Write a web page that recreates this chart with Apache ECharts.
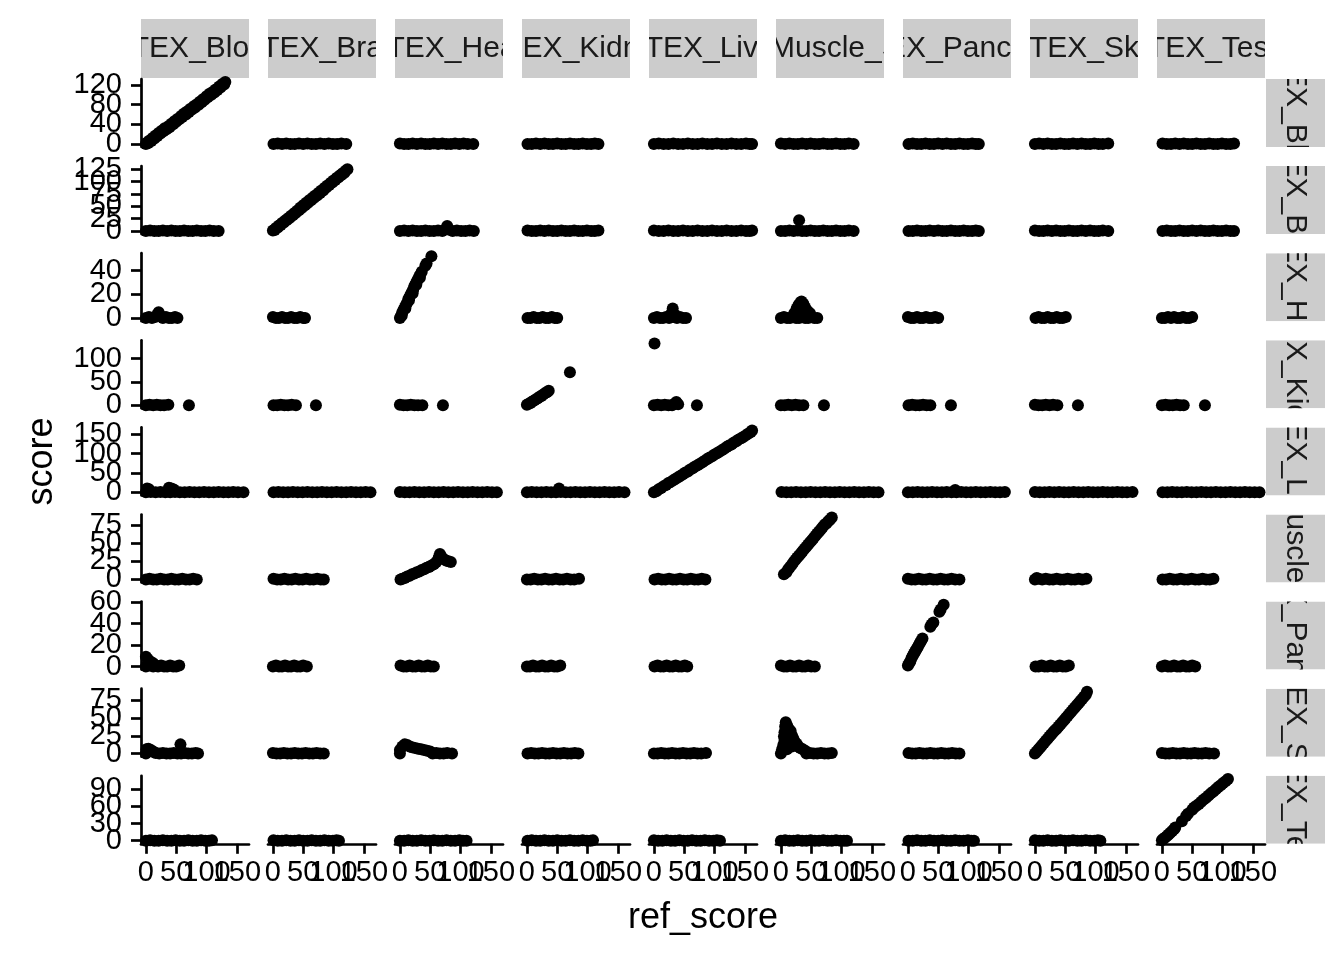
<!DOCTYPE html>
<html><head><meta charset="utf-8">
<script src="https://cdn.jsdelivr.net/npm/echarts@6/dist/echarts.min.js"></script>
<style>html,body{margin:0;padding:0;background:#fff}#c{width:1344px;height:960px}</style>
</head><body><div id="c"></div>
<script>
// facet labels (rows = score tissue, columns = ref tissue)
const tissues = ["GTEX_Blood","GTEX_Brain","GTEX_Heart","GTEX_Kidney","GTEX_Liver","GTEX_Muscle_Skeletal","GTEX_Pancreas","GTEX_Skin","GTEX_Testis"];
const xTicks = [0,50,100,150];
const yTicks = [[0,40,80,120],[0,25,50,75,100,125],[0,20,40],[0,50,100],[0,50,100,150],[0,25,50,75],[0,20,40,60],[0,25,50,75],[0,30,60,90]];

// each row: 9 panels (ref tissue columns), points [ref_score, score]
const scoreBlood = [
 [[0,0],[2,3],[4,2],[6,7],[9,6],[11,12],[14,11],[16,17],[19,16],[21,22],[24,21],[26,27],[29,26],[31,32],[34,30],[37,36],[39,34],[42,41],[45,40],[47,46],[50,45],[52,51],[55,50],[58,57],[60,55],[63,62],[66,60],[68,66],[71,65],[73,71],[76,70],[79,77],[81,74],[84,81],[87,80],[89,86],[92,85],[94,91],[97,90],[100,97],[102,95],[105,102],[108,100],[110,106],[113,105],[115,111],[118,110],[121,117],[123,115],[126,122],[129,121],[131,126]],
 [[1,0],[8,1],[15,0],[22,1],[29,0],[36,0],[43,1],[50,0],[57,1],[64,0],[71,0],[78,1],[85,0],[92,1],[99,0],[106,0],[113,1],[121,0]],
 [[0,1],[7,0],[14,0],[21,1],[28,0],[35,1],[42,0],[49,0],[56,1],[63,0],[70,1],[77,0],[84,0],[91,1],[98,0],[105,1],[112,0],[121,0]],
 [[1,0],[8,0],[15,1],[22,0],[29,1],[36,0],[43,0],[50,1],[57,0],[64,0],[71,1],[78,0],[85,0],[92,1],[99,0],[106,0],[112,1],[118,0]],
 [[0,0],[8,1],[16,0],[24,0],[32,1],[40,0],[48,0],[56,1],[64,0],[72,0],[80,1],[88,0],[96,0],[104,1],[112,0],[120,0],[128,1],[136,0],[144,0],[152,1],[158,0],[162,0]],
 [[0,1],[7,0],[14,1],[21,0],[28,0],[35,1],[42,0],[49,1],[56,0],[63,0],[70,1],[77,0],[84,0],[91,1],[98,0],[105,0],[112,1],[120,0]],
 [[1,0],[8,1],[15,0],[22,0],[29,1],[36,0],[43,0],[50,1],[57,0],[64,1],[71,0],[78,0],[85,1],[92,0],[99,0],[106,1],[112,0],[117,0]],
 [[0,0],[7,1],[14,0],[21,1],[28,0],[35,0],[42,1],[49,0],[56,0],[63,1],[70,0],[77,1],[84,0],[91,0],[98,1],[105,0],[112,0],[121,1]],
 [[1,1],[8,0],[15,0],[22,1],[29,0],[36,1],[43,0],[50,0],[57,1],[64,0],[71,0],[78,1],[85,0],[92,0],[99,1],[106,0],[113,0],[119,1]]
];
const scoreBrain = [
 [[0,0],[7,1],[14,0],[21,0],[28,1],[35,0],[42,1],[49,0],[56,0],[63,1],[70,0],[77,0],[84,1],[91,0],[98,0],[105,1],[112,0],[120,0]],
 [[0,1],[3,2],[5,6],[8,7],[10,11],[13,12],[15,16],[18,17],[20,21],[23,22],[25,26],[28,27],[30,31],[33,32],[35,36],[38,37],[40,41],[43,42],[45,47],[48,47],[50,52],[53,52],[55,57],[58,57],[60,62],[63,62],[65,67],[68,67],[70,72],[73,72],[75,77],[78,77],[80,82],[83,82],[85,87],[88,88],[90,92],[93,93],[95,97],[98,98],[100,102],[103,103],[105,107],[108,108],[110,112],[113,113],[115,117],[118,118],[120,122],[123,125]],
 [[0,0],[7,1],[14,0],[21,1],[28,0],[35,0],[42,1],[49,0],[56,0],[63,1],[70,0],[76,4],[78,10],[80,3],[87,0],[94,1],[101,0],[108,0],[115,1],[122,0]],
 [[1,1],[8,0],[15,0],[22,1],[29,0],[36,1],[43,0],[50,0],[57,1],[64,0],[71,0],[78,1],[85,0],[92,0],[99,1],[106,0],[112,0],[118,1]],
 [[0,1],[8,0],[16,0],[24,1],[32,0],[40,0],[48,1],[56,0],[64,0],[72,1],[80,0],[88,0],[96,1],[104,0],[112,0],[120,1],[128,0],[136,0],[144,1],[152,0],[158,0],[162,1]],
 [[0,0],[7,0],[14,1],[21,0],[28,1],[30,22],[35,0],[42,0],[49,1],[56,0],[63,0],[70,1],[77,0],[84,0],[91,1],[98,0],[105,0],[112,1],[120,0]],
 [[1,0],[8,0],[15,1],[22,0],[29,0],[36,1],[43,0],[50,1],[57,0],[64,0],[71,1],[78,0],[85,0],[92,1],[99,0],[106,0],[112,1],[117,0]],
 [[0,1],[7,0],[14,0],[21,1],[28,0],[35,1],[42,0],[49,0],[56,1],[63,0],[70,0],[77,1],[84,0],[91,1],[98,0],[105,0],[112,1],[121,0]],
 [[1,0],[8,1],[15,0],[22,0],[29,1],[36,0],[43,0],[50,1],[57,0],[64,1],[71,0],[78,0],[85,1],[92,0],[99,0],[106,1],[113,0],[119,0]]
];
const scoreHeart = [
 [[0,0],[5,1],[10,0],[15,1],[19,3],[21,5],[24,2],[28,0],[33,1],[38,0],[43,0],[48,1],[52,0]],
 [[0,1],[5,0],[10,0],[15,1],[20,0],[25,0],[30,1],[35,0],[40,0],[45,1],[50,0],[53,0]],
 [[0,0],[2,2],[3,2],[4,5],[6,7],[8,9],[9,8],[10,11],[12,13],[14,16],[15,15],[16,18],[18,20],[20,22],[21,21],[22,24],[24,27],[26,29],[27,28],[28,31],[30,33],[32,35],[33,34],[34,37],[36,39],[42,44],[44,46],[52,52]],
 [[1,0],[6,0],[11,1],[16,0],[21,0],[26,1],[31,0],[36,0],[41,1],[46,0],[50,0]],
 [[0,0],[5,1],[10,0],[15,0],[20,1],[25,0],[29,4],[31,8],[34,3],[38,0],[43,1],[48,0],[53,0]],
 [[0,0],[5,1],[10,0],[15,0],[20,1],[22,4],[25,0],[26,8],[29,11],[30,0],[32,13],[34,14],[35,1],[37,12],[40,9],[40,0],[44,6],[45,0],[48,4],[50,1],[55,0],[60,0]],
 [[0,1],[5,0],[10,0],[15,1],[20,0],[25,0],[30,1],[35,0],[40,0],[45,1],[50,0]],
 [[1,0],[6,1],[11,0],[16,0],[21,1],[26,0],[31,0],[36,1],[41,0],[46,0],[51,1]],
 [[0,0],[5,0],[10,1],[15,0],[20,1],[25,0],[30,0],[35,1],[40,0],[45,0],[50,1]]
];
const scoreKidney = [
 [[0,0],[6,1],[12,0],[18,1],[24,0],[30,0],[37,1],[71,0]],
 [[1,0],[7,0],[13,1],[19,0],[25,0],[31,1],[38,0],[71,0]],
 [[0,1],[6,0],[12,0],[18,1],[24,0],[30,0],[37,0],[71,0]],
 [[0,1],[3,3],[6,5],[9,8],[12,10],[15,13],[18,15],[21,18],[24,20],[27,23],[30,26],[33,28],[36,31],[71,71]],
 [[1,133],[0,0],[6,1],[12,0],[18,1],[24,0],[30,0],[34,3],[37,7],[40,2],[71,0]],
 [[0,0],[6,0],[12,1],[18,0],[24,1],[30,0],[37,0],[71,0]],
 [[1,0],[7,1],[13,0],[19,0],[25,1],[31,0],[37,0],[71,0]],
 [[0,1],[6,0],[12,0],[18,1],[24,0],[30,1],[37,0],[71,0]],
 [[0,0],[6,1],[12,0],[18,0],[24,1],[30,0],[36,0],[71,0]]
];
const scoreLiver = [
 [[0,0],[2,10],[5,8],[8,1],[16,0],[24,1],[32,0],[38,12],[40,0],[42,10],[46,7],[48,1],[56,0],[64,0],[72,1],[80,0],[88,0],[96,1],[104,0],[112,0],[120,1],[128,0],[136,0],[144,1],[152,0],[161,0]],
 [[1,0],[9,1],[17,0],[25,0],[33,1],[41,0],[49,0],[57,1],[65,0],[73,0],[81,1],[89,0],[97,0],[105,1],[113,0],[121,0],[129,1],[137,0],[145,0],[153,1],[161,0]],
 [[0,1],[8,0],[16,0],[24,1],[32,0],[40,0],[48,1],[56,0],[64,0],[72,1],[80,0],[88,0],[96,1],[104,0],[112,0],[120,1],[128,0],[136,0],[144,1],[152,0],[160,0]],
 [[0,0],[8,1],[16,0],[24,0],[32,1],[40,0],[48,0],[53,10],[56,1],[64,0],[72,0],[80,1],[88,0],[96,0],[104,1],[112,0],[120,0],[128,1],[136,0],[144,0],[152,1],[161,0]],
 [[0,0],[4,3],[8,8],[12,11],[16,16],[20,19],[24,24],[28,27],[32,31],[36,35],[40,39],[44,43],[48,47],[52,51],[56,54],[60,59],[64,62],[68,67],[72,70],[76,74],[80,78],[84,82],[88,86],[92,90],[96,93],[100,98],[104,101],[108,105],[112,109],[116,113],[120,117],[124,121],[128,124],[132,129],[136,132],[140,137],[144,140],[148,144],[152,148],[156,152],[160,156],[162,160]],
 [[1,1],[9,0],[17,0],[25,1],[33,0],[41,0],[49,1],[57,0],[65,0],[73,1],[81,0],[89,0],[97,1],[105,0],[113,0],[121,1],[129,0],[137,0],[145,1],[153,0],[161,0]],
 [[0,0],[8,0],[16,1],[24,0],[32,0],[40,1],[48,0],[56,0],[64,1],[72,0],[78,6],[80,0],[88,1],[96,0],[104,0],[112,1],[120,0],[128,0],[136,1],[144,0],[152,0],[160,1]],
 [[0,1],[8,0],[16,0],[24,1],[32,0],[40,1],[48,0],[56,0],[64,1],[72,0],[80,0],[88,1],[96,0],[104,0],[112,1],[120,0],[128,0],[136,1],[144,0],[152,0],[161,1]],
 [[1,0],[9,0],[17,1],[25,0],[33,0],[41,1],[49,0],[57,0],[65,1],[73,0],[81,0],[89,1],[97,0],[105,0],[113,1],[121,0],[129,0],[137,1],[145,0],[153,0],[161,0]]
];
const scoreMuscle = [
 [[0,0],[6,1],[12,0],[18,0],[24,1],[30,0],[36,0],[42,1],[48,0],[54,0],[60,1],[66,0],[72,0],[78,1],[84,0]],
 [[1,1],[7,0],[13,0],[19,1],[25,0],[31,0],[37,1],[43,0],[49,0],[55,1],[61,0],[67,0],[73,1],[79,0],[84,0]],
 [[1,0],[4,1],[8,2],[12,4],[16,5],[20,7],[24,8],[28,10],[32,11],[36,13],[40,14],[44,16],[48,17],[52,19],[56,21],[60,24],[64,30],[66,35],[68,32],[72,28],[76,26],[80,25],[84,24]],
 [[0,0],[6,0],[12,1],[18,0],[24,0],[30,1],[36,0],[42,0],[48,1],[54,0],[60,0],[66,1],[72,0],[78,0],[86,1]],
 [[1,0],[7,1],[13,0],[19,0],[25,1],[31,0],[37,0],[43,1],[49,0],[55,0],[61,1],[67,0],[73,0],[79,1],[85,0]],
 [[5,7],[9,10],[12,14],[15,17],[18,20],[21,24],[24,27],[27,30],[30,33],[33,36],[36,39],[39,42],[42,45],[45,48],[48,51],[51,54],[54,57],[57,60],[60,63],[63,66],[66,69],[69,72],[72,75],[75,77],[78,80],[81,82],[84,85]],
 [[0,1],[6,0],[12,0],[18,1],[24,0],[30,0],[36,1],[42,0],[48,0],[54,1],[60,0],[66,0],[72,1],[78,0],[85,0]],
 [[0,0],[3,2],[6,1],[12,0],[18,1],[24,0],[30,0],[36,1],[42,0],[48,0],[54,1],[60,0],[66,0],[72,1],[78,0],[85,1]],
 [[1,0],[7,0],[13,1],[19,0],[25,0],[31,1],[37,0],[43,0],[49,1],[55,0],[61,0],[67,1],[73,0],[79,0],[85,1]]
];
const scorePancreas = [
 [[0,9],[0,0],[3,7],[6,5],[6,1],[9,4],[12,3],[12,0],[16,1],[20,0],[25,1],[30,0],[35,0],[40,1],[45,0],[50,0],[55,1]],
 [[0,0],[5,1],[10,0],[15,0],[20,1],[25,0],[30,0],[35,1],[40,0],[45,0],[50,1],[56,0]],
 [[1,1],[6,0],[11,0],[16,1],[21,0],[26,0],[31,1],[36,0],[41,0],[46,1],[51,0],[56,0]],
 [[0,0],[5,0],[10,1],[15,0],[20,0],[25,1],[30,0],[35,0],[40,1],[45,0],[50,0],[55,1]],
 [[1,0],[6,1],[11,0],[16,0],[21,1],[26,0],[31,0],[36,1],[41,0],[46,0],[51,1],[55,0]],
 [[0,1],[5,0],[10,0],[15,1],[20,0],[25,0],[30,1],[35,0],[40,0],[45,1],[50,0],[56,0]],
 [[0,1],[2,3],[4,5],[6,8],[8,10],[10,12],[12,14],[14,16],[16,18],[18,20],[20,22],[22,24],[24,26],[37,37],[39,39],[42,41],[52,51],[54,53],[59,57.5]],
 [[1,0],[6,0],[11,1],[16,0],[21,0],[26,1],[31,0],[36,0],[41,1],[46,0],[51,0],[56,1]],
 [[0,0],[5,1],[10,0],[15,0],[20,1],[25,0],[30,0],[35,1],[40,0],[45,0],[50,1],[55,0]]
];
const scoreSkin = [
 [[0,0],[1,6],[4,7],[8,5],[12,3],[16,1],[22,0],[28,1],[34,0],[40,0],[46,1],[52,0],[57,13],[58,0],[64,1],[70,0],[76,0],[82,1],[86,0]],
 [[0,1],[6,0],[12,0],[18,1],[24,0],[30,0],[36,1],[42,0],[48,0],[54,1],[60,0],[66,0],[72,1],[78,0],[84,0]],
 [[0,5],[0,0],[4,10],[8,13],[12,12],[16,10],[20,9],[25,8],[30,7],[35,6],[40,5],[45,4],[50,3],[54,0],[60,1],[66,0],[72,0],[78,1],[86,0]],
 [[1,0],[7,1],[13,0],[19,0],[25,1],[31,0],[37,0],[43,1],[49,0],[55,0],[61,1],[67,0],[73,0],[79,1],[85,0]],
 [[0,0],[6,0],[12,1],[18,0],[24,0],[30,1],[36,0],[42,0],[48,1],[54,0],[60,0],[66,1],[72,0],[78,0],[86,1]],
 [[0,0],[2,6],[4,12],[6,18],[6,30],[7,38],[8,44],[10,40],[5,24],[8,30],[10,34],[12,36],[9,22],[12,28],[14,30],[16,32],[12,18],[16,24],[18,26],[20,22],[8,12],[14,14],[20,16],[22,18],[10,6],[18,10],[24,12],[26,14],[28,10],[32,8],[36,6],[40,4],[42,0],[48,1],[54,0],[60,0],[66,1],[72,0],[78,0],[84,1]],
 [[1,1],[7,0],[13,0],[19,1],[25,0],[31,0],[37,1],[43,0],[49,0],[55,1],[61,0],[67,0],[73,1],[79,0],[85,0]],
 [[0,0],[3,3],[6,6],[9,9],[12,12],[15,15],[18,18],[21,21],[24,24],[27,27],[30,30],[33,33],[36,35],[39,38],[42,41],[45,44],[48,47],[51,50],[54,53],[57,56],[60,59],[63,62],[66,65],[69,68],[72,71],[75,74],[78,77],[81,80],[84,83],[86,87]],
 [[0,1],[6,0],[12,0],[18,1],[24,0],[30,0],[36,1],[42,0],[48,0],[54,1],[60,0],[66,0],[72,1],[78,0],[86,0]]
];
const scoreTestis = [
 [[0,0],[7,1],[14,0],[21,0],[28,1],[35,0],[42,0],[49,1],[56,0],[63,0],[70,1],[77,0],[84,0],[91,1],[98,0],[104,0],[109,1]],
 [[1,1],[8,0],[15,0],[22,1],[29,0],[36,0],[43,1],[50,0],[57,0],[64,1],[71,0],[78,0],[85,1],[92,0],[99,0],[105,1],[109,0]],
 [[0,0],[7,0],[14,1],[21,0],[28,0],[35,1],[42,0],[49,0],[56,1],[63,0],[70,0],[77,1],[84,0],[91,0],[98,1],[104,0],[110,0]],
 [[1,0],[8,1],[15,0],[22,0],[29,1],[36,0],[43,0],[50,1],[57,0],[64,0],[71,1],[78,0],[85,0],[92,1],[99,0],[105,0],[109,1]],
 [[0,1],[7,0],[14,0],[21,1],[28,0],[35,0],[42,1],[49,0],[56,0],[63,1],[70,0],[77,0],[84,1],[91,0],[98,0],[104,1],[109,0]],
 [[0,0],[7,1],[14,0],[21,0],[28,1],[35,0],[42,0],[49,1],[56,0],[63,0],[70,1],[77,0],[84,0],[91,1],[98,0],[104,0],[109,0]],
 [[1,0],[8,0],[15,1],[22,0],[29,0],[36,1],[43,0],[50,0],[57,1],[64,0],[71,0],[78,1],[85,0],[92,0],[99,1],[105,0],[109,0]],
 [[0,1],[7,0],[14,0],[21,1],[28,0],[35,0],[42,1],[49,0],[56,0],[63,1],[70,0],[77,0],[84,1],[91,0],[98,0],[104,1],[108,0]],
 [[0,1],[2,3],[5,5],[8,8],[11,11],[14,14],[17,17],[20,20],[22,23],[33,34],[40,43],[43,47],[50,54],[53,58],[57,61],[61,64],[65,68],[69,72],[73,75],[77,79],[81,83],[85,86],[89,90],[93,94],[97,97],[101,101],[105,104],[109,108]]
];
const rows = [scoreBlood, scoreBrain, scoreHeart, scoreKidney, scoreLiver, scoreMuscle, scorePancreas, scoreSkin, scoreTestis];

// layout (pixels)
const L = {left0:141, colStep:127, panelW:108, top0:79, rowStep:87.1, panelH:68, stripTop:19, stripH:59, rightX:1266, stripW:59};
const FONT = 'Liberation Sans';

// x range shared across all panels (data range + 5%)
let xmin = Infinity, xmax = -Infinity;
rows.forEach(r => r.forEach(p => p.forEach(d => { xmin = Math.min(xmin, d[0]); xmax = Math.max(xmax, d[0]); })));
const xPad = (xmax - xmin) * 0.05;
const xRange = [xmin - xPad, xmax + xPad];
const yRanges = rows.map(r => {
  let lo = Infinity, hi = -Infinity;
  r.forEach(p => p.forEach(d => { lo = Math.min(lo, d[1]); hi = Math.max(hi, d[1]); }));
  const pad = (hi - lo) * 0.05;
  return [lo - pad, hi + pad];
});

const lineStyle = {color:'#000', width:2.7};
const labelStyle = {color:'#000', fontSize:29, fontFamily:FONT};
const grids = [], xAxes = [], yAxes = [], extraX = [], extraY = [], series = [];
for (let r = 0; r < 9; r++) {
  for (let c = 0; c < 9; c++) {
    const idx = r * 9 + c;
    grids.push({left: L.left0 + c * L.colStep, top: L.top0 + r * L.rowStep, width: L.panelW, height: L.panelH});
    const showX = r === 8, showY = c === 0;
    xAxes.push({type:'value', gridIndex: idx, position:'bottom', min: xRange[0], max: xRange[1], z: 5,
      axisLine:{show: showX, onZero:false, lineStyle: lineStyle},
      axisTick:{show: showX, length:10, customValues: xTicks, lineStyle: lineStyle},
      axisLabel:{show:false}, splitLine:{show:false}});
    yAxes.push({type:'value', gridIndex: idx, position:'left', min: yRanges[r][0], max: yRanges[r][1], z: 5,
      axisLine:{show: showY, onZero:false, lineStyle: lineStyle},
      axisTick:{show: showY, length:10, customValues: yTicks[r], lineStyle: lineStyle},
      axisLabel:{show:false}, splitLine:{show:false}});
    // tick labels: one label-only axis per value so overlapping labels all stay visible
    if (showX) xTicks.forEach(v => extraX.push({type:'value', gridIndex: idx, position:'bottom', min: xRange[0], max: xRange[1],
      axisLine:{show:false}, axisTick:{show:false}, splitLine:{show:false},
      axisLabel:Object.assign({show:true, customValues:[v], showMinLabel:true, showMaxLabel:true, margin:15}, labelStyle)}));
    if (showY) yTicks[r].forEach(v => extraY.push({type:'value', gridIndex: idx, position:'left', min: yRanges[r][0], max: yRanges[r][1],
      axisLine:{show:false}, axisTick:{show:false}, splitLine:{show:false},
      axisLabel:Object.assign({show:true, customValues:[v], showMinLabel:true, showMaxLabel:true, margin:19}, labelStyle)}));
    series.push({type:'scatter', xAxisIndex: idx, yAxisIndex: idx, data: rows[r][c], symbol:'circle', symbolSize:12,
      itemStyle:{color:'#000', opacity:1}, silent:true, animation:false});
  }
}

// facet strips (top: columns, right: rows), label text clipped to strip
const stripItems = [];
tissues.forEach((t, i) => { stripItems.push([0, i]); });
tissues.forEach((t, i) => { stripItems.push([1, i]); });
series.push({
  type:'custom', coordinateSystem:'none', silent:true, animation:false, data: stripItems,
  renderItem: function (params, api) {
    const side = stripItems[params.dataIndex][0], i = stripItems[params.dataIndex][1];
    let x, y, w, h, rot;
    if (side === 0) { x = L.left0 + i * L.colStep; y = L.stripTop; w = L.panelW; h = L.stripH; rot = 0; }
    else { x = L.rightX; y = L.top0 + i * L.rowStep; w = L.stripW; h = L.panelH; rot = -Math.PI / 2; }
    return {type:'group', clipPath:{type:'rect', shape:{x:x, y:y, width:w, height:h}}, children:[
      {type:'rect', shape:{x:x, y:y, width:w, height:h}, style:{fill:'#CCCCCC'}},
      {type:'text', x: x + w / 2, y: y + h / 2, rotation: rot,
       style:{text: tissues[i], fill:'#1A1A1A', fontSize:30, fontFamily:FONT, align:'center', verticalAlign:'middle'}}
    ]};
  }
});

const chart = echarts.init(document.getElementById('c'), null, {renderer:'canvas'});
chart.setOption({
  backgroundColor:'#fff',
  animation:false,
  grid: grids, xAxis: xAxes.concat(extraX), yAxis: yAxes.concat(extraY), series: series,
  graphic:[
    {type:'text', x:42, y:461.5, rotation:Math.PI/2, style:{text:'score', fill:'#000', fontSize:36, fontFamily:FONT, align:'center', verticalAlign:'middle'}},
    {type:'text', x:703, y:918, style:{text:'ref_score', fill:'#000', fontSize:36, fontFamily:FONT, align:'center', verticalAlign:'middle'}}
  ]
});
</script></body></html>
